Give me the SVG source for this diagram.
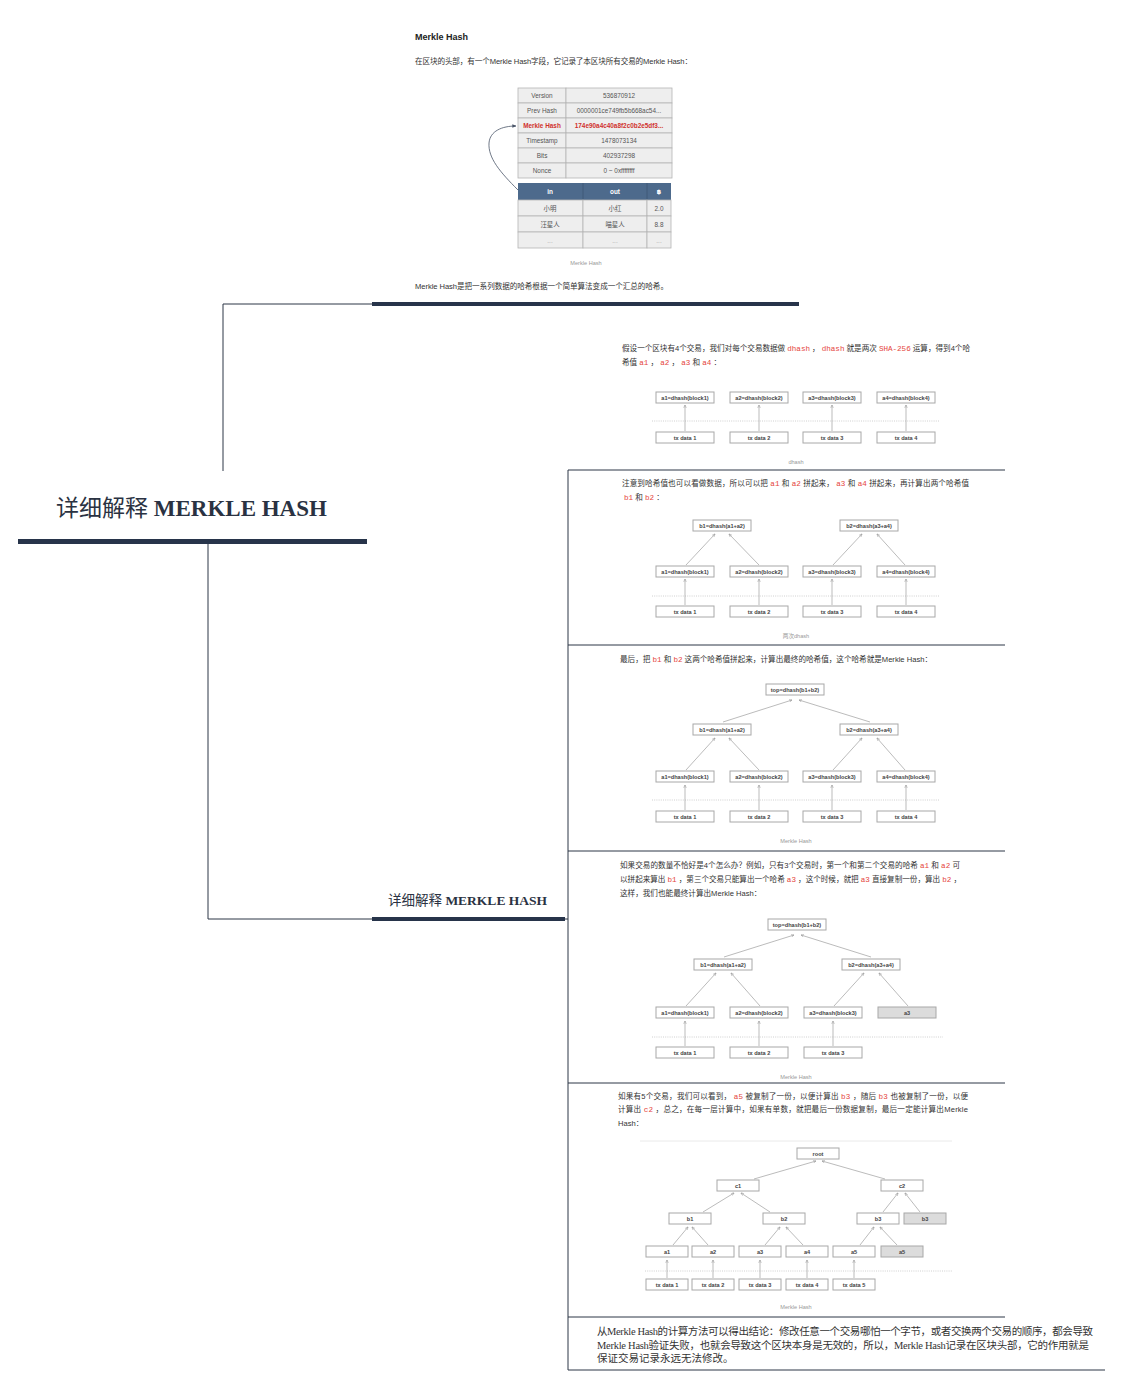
<svg xmlns="http://www.w3.org/2000/svg" width="1121" height="1385" viewBox="0 0 1121 1385">
<defs>
<style>
.p{font-family:"Liberation Sans","Noto Sans CJK SC",sans-serif;font-size:7.6px;fill:#333}
.c{font-family:"Liberation Mono","DejaVu Sans Mono",monospace;fill:#e5463d}
.h{font-family:"Liberation Sans","Noto Sans CJK SC",sans-serif;font-size:9px;font-weight:bold;fill:#222}
.bx{fill:#fff;stroke:#a8a8a8;stroke-width:1}
.gx{fill:#dcdcdc;stroke:#a8a8a8;stroke-width:1}
.bt{font-family:"Liberation Sans",sans-serif;font-size:5.6px;font-weight:bold;fill:#444;text-anchor:middle}
.ar{stroke:#aaa;stroke-width:0.8;fill:none;marker-end:url(#ah)}
.dt{stroke:#c4c4c4;stroke-width:0.8;stroke-dasharray:1 1.2}
.cap{font-family:"Liberation Sans","Noto Sans CJK SC",sans-serif;font-size:5.6px;fill:#999;text-anchor:middle}
.tc{fill:#eee;stroke:#b5b5b5;stroke-width:0.8}
.tt{font-family:"Liberation Sans","DejaVu Sans","Noto Sans CJK SC",sans-serif;font-size:6.4px;fill:#555;text-anchor:middle}
.th{font-family:"Liberation Sans","DejaVu Sans",sans-serif;font-size:6.4px;font-weight:bold;fill:#fff;text-anchor:middle}
.ln{stroke:#2d3646;stroke-width:1;fill:none}
.bar{fill:#27344a}
.ttl{font-family:"Liberation Serif","Noto Sans CJK SC",serif;fill:#2a3242}
.cc{font-family:"Liberation Serif","Noto Sans CJK SC",serif;font-size:10.5px;fill:#333}
</style>
<marker id="ah" viewBox="0 0 6 6" refX="5.5" refY="3" markerWidth="4" markerHeight="4" orient="auto">
<path d="M0,0.6 L6,3 L0,5.4" fill="none" stroke="#999" stroke-width="1"/>
</marker>
<marker id="ahd" viewBox="0 0 6 6" refX="5.5" refY="3" markerWidth="5" markerHeight="5" orient="auto">
<path d="M0,0.5 L6,3 L0,5.5 z" fill="#4a5568"/>
</marker>
</defs>
<rect width="1121" height="1385" fill="#fff"/>

<!-- tree connectors -->
<g id="connectors">
<path class="ln" d="M223,471 V304 H372"/>
<path class="ln" d="M208,544 V919 H568"/>
<path class="ln" d="M568,470 V1370"/>
<path class="ln" d="M568,470 H1005 M568,645 H1005 M568,851 H1005 M568,1083 H1005 M568,1317 H1005 M568,1370 H1105"/>
</g>

<!-- root topic -->
<g id="root">
<text class="ttl" x="56" y="516" font-size="23">详细解释 <tspan font-weight="bold">MERKLE HASH</tspan></text>
<rect class="bar" x="18" y="539" width="349" height="5"/>
</g>

<!-- intro note with block header table -->
<g id="intro">
<text class="h" x="415" y="39.5">Merkle Hash</text>
<text class="p" x="415" y="63.5" font-size="7.4" textLength="277" lengthAdjust="spacing">在区块的头部，有一个Merkle Hash字段，它记录了本区块所有交易的Merkle Hash：</text>
<g id="header-table">
<rect class="tc" x="518" y="88" width="48" height="15"/><rect class="tc" x="566" y="88" width="106" height="15"/>
<rect class="tc" x="518" y="103" width="48" height="15"/><rect class="tc" x="566" y="103" width="106" height="15"/>
<rect class="tc" x="518" y="118" width="48" height="15"/><rect class="tc" x="566" y="118" width="106" height="15"/>
<rect class="tc" x="518" y="133" width="48" height="15"/><rect class="tc" x="566" y="133" width="106" height="15"/>
<rect class="tc" x="518" y="148" width="48" height="15"/><rect class="tc" x="566" y="148" width="106" height="15"/>
<rect class="tc" x="518" y="163" width="48" height="15"/><rect class="tc" x="566" y="163" width="106" height="15"/>
<text class="tt" x="542" y="98">Version</text><text class="tt" x="619" y="98">536870912</text>
<text class="tt" x="542" y="113">Prev Hash</text><text class="tt" x="619" y="113">0000001ce749fb5b668ac54...</text>
<text class="tt" x="542" y="128" font-weight="bold" style="fill:#d0312d">Merkle Hash</text><text class="tt" x="619" y="128" font-weight="bold" style="fill:#d0312d">174e90a4c40a8f2c0b2e5df3...</text>
<text class="tt" x="542" y="143">Timestamp</text><text class="tt" x="619" y="143">1478073134</text>
<text class="tt" x="542" y="158">Bits</text><text class="tt" x="619" y="158">402937298</text>
<text class="tt" x="542" y="173">Nonce</text><text class="tt" x="619" y="173">0 ~ 0xffffffff</text>
</g>
<g id="tx-table">
<rect x="518" y="183" width="153" height="17" fill="#4d6a8c"/>
<path d="M583,183 V200 M647,183 V200" stroke="#3d5673" stroke-width="0.8"/>
<text class="th" x="550" y="194">in</text><text class="th" x="615" y="194">out</text><text class="th" x="659" y="194">฿</text>
<rect class="tc" x="518" y="200" width="65" height="16"/><rect class="tc" x="583" y="200" width="64" height="16"/><rect class="tc" x="647" y="200" width="24" height="16"/>
<rect class="tc" x="518" y="216" width="65" height="16"/><rect class="tc" x="583" y="216" width="64" height="16"/><rect class="tc" x="647" y="216" width="24" height="16"/>
<rect class="tc" x="518" y="232" width="65" height="16"/><rect class="tc" x="583" y="232" width="64" height="16"/><rect class="tc" x="647" y="232" width="24" height="16"/>
<text class="tt" x="550" y="210.5">小明</text><text class="tt" x="615" y="210.5">小红</text><text class="tt" x="659" y="210.5">2.0</text>
<text class="tt" x="550" y="226.5">汪星人</text><text class="tt" x="615" y="226.5">喵星人</text><text class="tt" x="659" y="226.5">8.8</text>
<text class="tt" x="550" y="242.5" style="fill:#aaa">...</text><text class="tt" x="615" y="242.5" style="fill:#aaa">...</text><text class="tt" x="659" y="242.5" style="fill:#aaa">...</text>
</g>
<path d="M518,190 C500,172 488,158 489,143 C490,131 502,126 516,126" fill="none" stroke="#4a5568" stroke-width="0.8" marker-end="url(#ahd)"/>
<text class="cap" x="586" y="265">Merkle Hash</text>
<text class="p" x="415" y="288.5" font-size="7.4" textLength="253" lengthAdjust="spacing">Merkle Hash是把一系列数据的哈希根据一个简单算法变成一个汇总的哈希。</text>
<rect class="bar" x="372" y="302" width="427" height="4"/>
</g>

<!-- sub topic -->
<g id="subtopic">
<text class="ttl" x="388" y="905" font-size="13.5">详细解释 <tspan font-weight="bold">MERKLE HASH</tspan></text>
<rect class="bar" x="372" y="917" width="193" height="4"/>
</g>

<!-- step 1: dhash of each transaction -->
<g id="step-dhash">
<text class="p" x="622" y="350.5" textLength="348" lengthAdjust="spacing">假设一个区块有4个交易，我们对每个交易数据做 <tspan class="c">dhash</tspan> ， <tspan class="c">dhash</tspan> 就是两次 <tspan class="c">SHA-256</tspan> 运算，得到4个哈</text>
<text class="p" x="622" y="365">希值 <tspan class="c">a1</tspan> ， <tspan class="c">a2</tspan> ， <tspan class="c">a3</tspan> 和 <tspan class="c">a4</tspan> ：</text>
<rect class="bx" x="656" y="392" width="58" height="11"/><rect class="bx" x="730" y="392" width="58" height="11"/><rect class="bx" x="803" y="392" width="58" height="11"/><rect class="bx" x="877" y="392" width="58" height="11"/>
<text class="bt" x="685" y="399.5">a1=dhash(block1)</text><text class="bt" x="759" y="399.5">a2=dhash(block2)</text><text class="bt" x="832" y="399.5">a3=dhash(block3)</text><text class="bt" x="906" y="399.5">a4=dhash(block4)</text>
<line class="dt" x1="652" y1="421" x2="940" y2="421"/>
<rect class="bx" x="656" y="432" width="58" height="11"/><rect class="bx" x="730" y="432" width="58" height="11"/><rect class="bx" x="803" y="432" width="58" height="11"/><rect class="bx" x="877" y="432" width="58" height="11"/>
<text class="bt" x="685" y="439.5">tx data 1</text><text class="bt" x="759" y="439.5">tx data 2</text><text class="bt" x="832" y="439.5">tx data 3</text><text class="bt" x="906" y="439.5">tx data 4</text>
<path class="ar" d="M685,431 V405"/><path class="ar" d="M759,431 V405"/><path class="ar" d="M832,431 V405"/><path class="ar" d="M906,431 V405"/>
<text class="cap" x="796" y="464">dhash</text>
</g>

<!-- step 2: pairwise b1, b2 -->
<g id="step-pairs">
<text class="p" x="622" y="485.5" textLength="347" lengthAdjust="spacing">注意到哈希值也可以看做数据，所以可以把 <tspan class="c">a1</tspan> 和 <tspan class="c">a2</tspan> 拼起来， <tspan class="c">a3</tspan> 和 <tspan class="c">a4</tspan> 拼起来，再计算出两个哈希值</text>
<text class="p" x="624" y="499.5"><tspan class="c">b1</tspan> 和 <tspan class="c">b2</tspan> ：</text>
<rect class="bx" x="693" y="520" width="58" height="11"/><rect class="bx" x="840" y="520" width="58" height="11"/>
<text class="bt" x="722" y="527.5">b1=dhash(a1+a2)</text><text class="bt" x="869" y="527.5">b2=dhash(a3+a4)</text>
<rect class="bx" x="656" y="566" width="58" height="11"/><rect class="bx" x="730" y="566" width="58" height="11"/><rect class="bx" x="803" y="566" width="58" height="11"/><rect class="bx" x="877" y="566" width="58" height="11"/>
<text class="bt" x="685" y="573.5">a1=dhash(block1)</text><text class="bt" x="759" y="573.5">a2=dhash(block2)</text><text class="bt" x="832" y="573.5">a3=dhash(block3)</text><text class="bt" x="906" y="573.5">a4=dhash(block4)</text>
<line class="dt" x1="652" y1="596" x2="940" y2="596"/>
<rect class="bx" x="656" y="606" width="58" height="11"/><rect class="bx" x="730" y="606" width="58" height="11"/><rect class="bx" x="803" y="606" width="58" height="11"/><rect class="bx" x="877" y="606" width="58" height="11"/>
<text class="bt" x="685" y="613.5">tx data 1</text><text class="bt" x="759" y="613.5">tx data 2</text><text class="bt" x="832" y="613.5">tx data 3</text><text class="bt" x="906" y="613.5">tx data 4</text>
<path class="ar" d="M685,605 V579"/><path class="ar" d="M759,605 V579"/><path class="ar" d="M832,605 V579"/><path class="ar" d="M906,605 V579"/>
<path class="ar" d="M686,565 L715,534"/><path class="ar" d="M759,565 L729,534"/><path class="ar" d="M833,565 L862,534"/><path class="ar" d="M905,565 L877,534"/>
<text class="cap" x="796" y="638">两次dhash</text>
</g>

<!-- step 3: top hash -->
<g id="step-top">
<text class="p" x="620" y="661.5" textLength="312" lengthAdjust="spacing">最后，把 <tspan class="c">b1</tspan> 和 <tspan class="c">b2</tspan> 这两个哈希值拼起来，计算出最终的哈希值，这个哈希就是Merkle Hash：</text>
<rect class="bx" x="766" y="684" width="58" height="11"/>
<text class="bt" x="795" y="691.5">top=dhash(b1+b2)</text>
<rect class="bx" x="693" y="724" width="58" height="11"/><rect class="bx" x="840" y="724" width="58" height="11"/>
<text class="bt" x="722" y="731.5">b1=dhash(a1+a2)</text><text class="bt" x="869" y="731.5">b2=dhash(a3+a4)</text>
<rect class="bx" x="656" y="771" width="58" height="11"/><rect class="bx" x="730" y="771" width="58" height="11"/><rect class="bx" x="803" y="771" width="58" height="11"/><rect class="bx" x="877" y="771" width="58" height="11"/>
<text class="bt" x="685" y="778.5">a1=dhash(block1)</text><text class="bt" x="759" y="778.5">a2=dhash(block2)</text><text class="bt" x="832" y="778.5">a3=dhash(block3)</text><text class="bt" x="906" y="778.5">a4=dhash(block4)</text>
<line class="dt" x1="652" y1="800" x2="940" y2="800"/>
<rect class="bx" x="656" y="811" width="58" height="11"/><rect class="bx" x="730" y="811" width="58" height="11"/><rect class="bx" x="803" y="811" width="58" height="11"/><rect class="bx" x="877" y="811" width="58" height="11"/>
<text class="bt" x="685" y="818.5">tx data 1</text><text class="bt" x="759" y="818.5">tx data 2</text><text class="bt" x="832" y="818.5">tx data 3</text><text class="bt" x="906" y="818.5">tx data 4</text>
<path class="ar" d="M685,810 V785"/><path class="ar" d="M759,810 V785"/><path class="ar" d="M832,810 V785"/><path class="ar" d="M906,810 V785"/>
<path class="ar" d="M686,770 L715,738"/><path class="ar" d="M759,770 L729,738"/><path class="ar" d="M833,770 L862,738"/><path class="ar" d="M905,770 L877,738"/>
<path class="ar" d="M723,722 L792,700"/><path class="ar" d="M870,722 L799,700"/>
<text class="cap" x="796" y="843">Merkle Hash</text>
</g>

<!-- step 4: three transactions -->
<g id="step-odd">
<text class="p" x="620" y="867.5" textLength="340" lengthAdjust="spacing">如果交易的数量不恰好是4个怎么办？例如，只有3个交易时，第一个和第二个交易的哈希 <tspan class="c">a1</tspan> 和 <tspan class="c">a2</tspan> 可</text>
<text class="p" x="620" y="881.5" textLength="341" lengthAdjust="spacing">以拼起来算出 <tspan class="c">b1</tspan> ，第三个交易只能算出一个哈希 <tspan class="c">a3</tspan> ，这个时候，就把 <tspan class="c">a3</tspan> 直接复制一份，算出 <tspan class="c">b2</tspan> ，</text>
<text class="p" x="620" y="895.5">这样，我们也能最终计算出Merkle Hash：</text>
<rect class="bx" x="768" y="919" width="58" height="11"/>
<text class="bt" x="797" y="926.5">top=dhash(b1+b2)</text>
<rect class="bx" x="694" y="959" width="58" height="11"/><rect class="bx" x="842" y="959" width="58" height="11"/>
<text class="bt" x="723" y="966.5">b1=dhash(a1+a2)</text><text class="bt" x="871" y="966.5">b2=dhash(a3+a4)</text>
<rect class="bx" x="656" y="1007" width="58" height="11"/><rect class="bx" x="730" y="1007" width="58" height="11"/><rect class="bx" x="804" y="1007" width="58" height="11"/><rect class="gx" x="878" y="1007" width="58" height="11"/>
<text class="bt" x="685" y="1014.5">a1=dhash(block1)</text><text class="bt" x="759" y="1014.5">a2=dhash(block2)</text><text class="bt" x="833" y="1014.5">a3=dhash(block3)</text><text class="bt" x="907" y="1014.5">a3</text>
<line class="dt" x1="652" y1="1037" x2="943" y2="1037"/>
<rect class="bx" x="656" y="1047" width="58" height="11"/><rect class="bx" x="730" y="1047" width="58" height="11"/><rect class="bx" x="804" y="1047" width="58" height="11"/>
<text class="bt" x="685" y="1054.5">tx data 1</text><text class="bt" x="759" y="1054.5">tx data 2</text><text class="bt" x="833" y="1054.5">tx data 3</text>
<path class="ar" d="M685,1046 V1021"/><path class="ar" d="M759,1046 V1021"/><path class="ar" d="M833,1046 V1021"/>
<path class="ar" d="M686,1006 L716,973"/><path class="ar" d="M760,1006 L731,973"/><path class="ar" d="M834,1006 L864,973"/><path class="ar" d="M908,1006 L879,973"/>
<path class="ar" d="M724,957 L794,935"/><path class="ar" d="M871,957 L801,935"/>
<text class="cap" x="796" y="1079">Merkle Hash</text>
</g>

<!-- step 5: five transactions -->
<g id="step-five">
<text class="p" x="618" y="1098.5" textLength="350" lengthAdjust="spacing">如果有5个交易，我们可以看到， <tspan class="c">a5</tspan> 被复制了一份，以便计算出 <tspan class="c">b3</tspan> ，随后 <tspan class="c">b3</tspan> 也被复制了一份，以便</text>
<text class="p" x="618" y="1111.5" textLength="350" lengthAdjust="spacing">计算出 <tspan class="c">c2</tspan> ，总之，在每一层计算中，如果有单数，就把最后一份数据复制，最后一定能计算出Merkle</text>
<text class="p" x="618" y="1125.5">Hash：</text>
<line x1="640" y1="1141" x2="952" y2="1141" stroke="#e4e4e4" stroke-width="0.8"/>
<rect class="bx" x="797" y="1148" width="42" height="11"/><text class="bt" x="818" y="1155.5">root</text>
<rect class="bx" x="717" y="1180" width="42" height="11"/><text class="bt" x="738" y="1187.5">c1</text>
<rect class="bx" x="881" y="1180" width="42" height="11"/><text class="bt" x="902" y="1187.5">c2</text>
<rect class="bx" x="669" y="1213" width="42" height="11"/><text class="bt" x="690" y="1220.5">b1</text>
<rect class="bx" x="763" y="1213" width="42" height="11"/><text class="bt" x="784" y="1220.5">b2</text>
<rect class="bx" x="857" y="1213" width="42" height="11"/><text class="bt" x="878" y="1220.5">b3</text>
<rect class="gx" x="904" y="1213" width="42" height="11"/><text class="bt" x="925" y="1220.5">b3</text>
<rect class="bx" x="646" y="1246" width="42" height="11"/><text class="bt" x="667" y="1253.5">a1</text>
<rect class="bx" x="692" y="1246" width="42" height="11"/><text class="bt" x="713" y="1253.5">a2</text>
<rect class="bx" x="739" y="1246" width="42" height="11"/><text class="bt" x="760" y="1253.5">a3</text>
<rect class="bx" x="786" y="1246" width="42" height="11"/><text class="bt" x="807" y="1253.5">a4</text>
<rect class="bx" x="833" y="1246" width="42" height="11"/><text class="bt" x="854" y="1253.5">a5</text>
<rect class="gx" x="881" y="1246" width="42" height="11"/><text class="bt" x="902" y="1253.5">a5</text>
<line class="dt" x1="645" y1="1271" x2="952" y2="1271"/>
<rect class="bx" x="646" y="1279" width="42" height="11"/><text class="bt" x="667" y="1286.5">tx data 1</text>
<rect class="bx" x="692" y="1279" width="42" height="11"/><text class="bt" x="713" y="1286.5">tx data 2</text>
<rect class="bx" x="739" y="1279" width="42" height="11"/><text class="bt" x="760" y="1286.5">tx data 3</text>
<rect class="bx" x="786" y="1279" width="42" height="11"/><text class="bt" x="807" y="1286.5">tx data 4</text>
<rect class="bx" x="833" y="1279" width="42" height="11"/><text class="bt" x="854" y="1286.5">tx data 5</text>
<path class="ar" d="M667,1278 V1260"/><path class="ar" d="M713,1278 V1260"/><path class="ar" d="M760,1278 V1260"/><path class="ar" d="M807,1278 V1260"/><path class="ar" d="M854,1278 V1260"/>
<path class="ar" d="M673,1245 L688,1227"/><path class="ar" d="M708,1245 L692,1227"/>
<path class="ar" d="M765,1245 L780,1227"/><path class="ar" d="M803,1245 L786,1227"/>
<path class="ar" d="M860,1245 L874,1227"/><path class="ar" d="M897,1245 L880,1227"/>
<path class="ar" d="M703,1212 L734,1193"/><path class="ar" d="M770,1212 L741,1193"/>
<path class="ar" d="M883,1212 L898,1193"/><path class="ar" d="M920,1212 L905,1193"/>
<path class="ar" d="M754,1179 L816,1161"/><path class="ar" d="M885,1179 L822,1161"/>
<text class="cap" x="796" y="1309">Merkle Hash</text>
</g>

<!-- conclusion -->
<g id="conclusion">
<text class="cc" x="597" y="1335" textLength="496" lengthAdjust="spacing">从Merkle Hash的计算方法可以得出结论：修改任意一个交易哪怕一个字节，或者交换两个交易的顺序，都会导致</text>
<text class="cc" x="597" y="1348.5" textLength="492" lengthAdjust="spacing">Merkle Hash验证失败，也就会导致这个区块本身是无效的，所以，Merkle Hash记录在区块头部，它的作用就是</text>
<text class="cc" x="597" y="1362">保证交易记录永远无法修改。</text>
</g>
</svg>
